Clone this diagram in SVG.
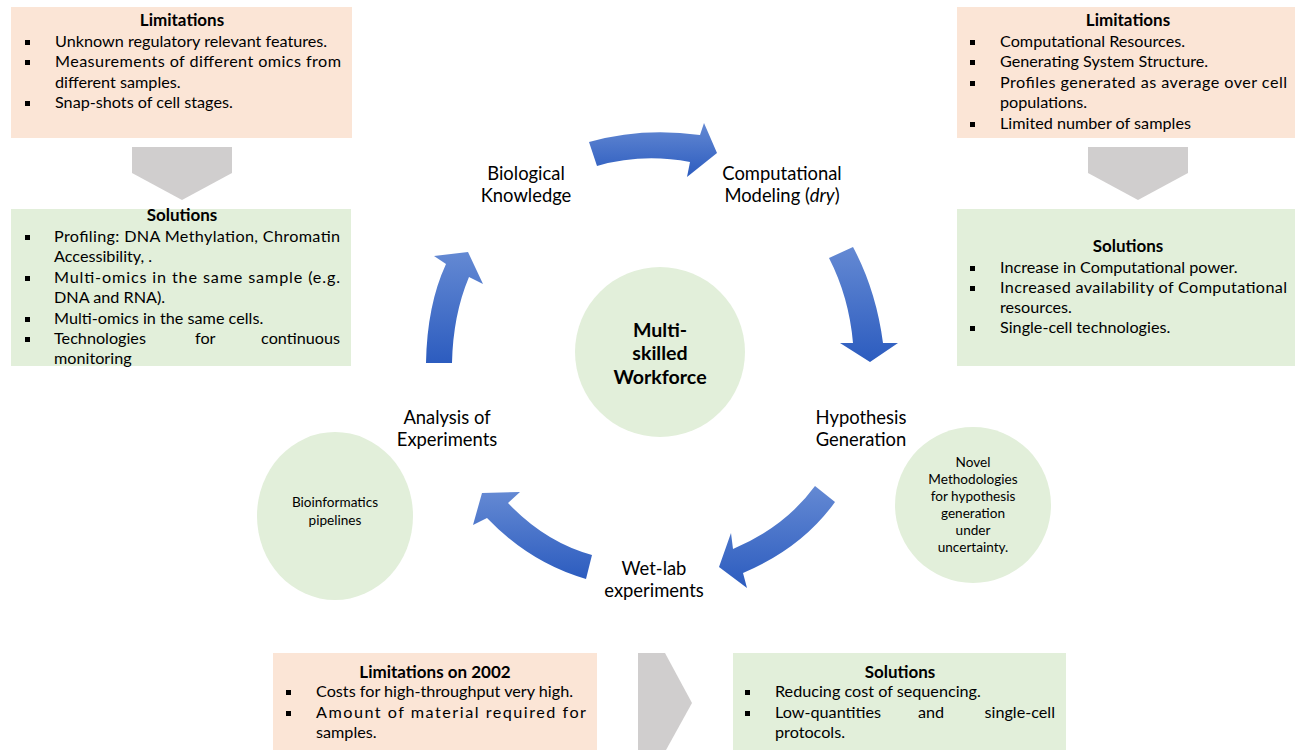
<svg xmlns="http://www.w3.org/2000/svg" width="1295" height="750" viewBox="0 0 1295 750">
<defs>
<linearGradient id="blue" x1="0" y1="0" x2="0" y2="1">
<stop offset="0" stop-color="#6489d3"/>
<stop offset="1" stop-color="#2c5cbf"/>
</linearGradient>
<style>
.peach{fill:#fbe5d6}
.green{fill:#e2efda}
.gray{fill:#d0cece}
.arrow{fill:url(#blue)}
text{font-family:Lato,"Open Sans","Liberation Sans",sans-serif;fill:#000}
.t{font-size:16.2px}
.b{font-size:17px;font-weight:bold;text-anchor:middle}
.lbl{font-size:18.4px;text-anchor:middle}
.sm{font-size:13.6px;text-anchor:middle}
.ctr{font-size:19.6px;font-weight:bold;text-anchor:middle}
.bul{fill:#000}
</style>
</defs>

<g id="limitations-left">
<rect class="peach" x="11" y="7" width="341" height="131"/>
<text class="b" x="182" y="26">Limitations</text>
<rect class="bul" x="25" y="40" width="5" height="5"/>
<text class="t" x="55" y="47">Unknown regulatory relevant features.</text>
<rect class="bul" x="25" y="60" width="5" height="5"/>
<text class="t" x="55" y="67" textLength="286" lengthAdjust="spacing">Measurements of different omics from</text>
<text class="t" x="55" y="88">different samples.</text>
<rect class="bul" x="25" y="101" width="5" height="5"/>
<text class="t" x="55" y="108">Snap-shots of cell stages.</text>
</g>

<g id="chevron-left">
<polygon class="gray" points="132,147 232,147 232,173 182,200 132,173"/>
</g>

<g id="solutions-left">
<rect class="green" x="11" y="209" width="340" height="157"/>
<text class="b" x="182" y="221">Solutions</text>
<rect class="bul" x="25" y="235" width="5" height="5"/>
<text class="t" x="54" y="242" textLength="286" lengthAdjust="spacing">Profiling: DNA Methylation, Chromatin</text>
<text class="t" x="54" y="262">Accessibility, .</text>
<rect class="bul" x="25" y="276" width="5" height="5"/>
<text class="t" x="54" y="283" textLength="286" lengthAdjust="spacing">Multi-omics in the same sample (e.g.</text>
<text class="t" x="54" y="303">DNA and RNA).</text>
<rect class="bul" x="25" y="317" width="5" height="5"/>
<text class="t" x="54" y="324">Multi-omics in the same cells.</text>
<rect class="bul" x="25" y="337" width="5" height="5"/>
<text class="t" x="54" y="344">Technologies</text>
<text class="t" x="195" y="344">for</text>
<text class="t" x="340" y="344" text-anchor="end">continuous</text>
<text class="t" x="54" y="364">monitoring</text>
</g>

<g id="limitations-right">
<rect class="peach" x="957" y="7" width="338" height="131"/>
<text class="b" x="1128" y="26">Limitations</text>
<rect class="bul" x="970" y="40" width="5" height="5"/>
<text class="t" x="1000" y="47">Computational Resources.</text>
<rect class="bul" x="970" y="60" width="5" height="5"/>
<text class="t" x="1000" y="67">Generating System Structure.</text>
<rect class="bul" x="970" y="81" width="5" height="5"/>
<text class="t" x="1000" y="88" textLength="287" lengthAdjust="spacing">Profiles generated as average over cell</text>
<text class="t" x="1000" y="108">populations.</text>
<rect class="bul" x="970" y="122" width="5" height="5"/>
<text class="t" x="1000" y="129">Limited number of samples</text>
</g>

<g id="chevron-right">
<polygon class="gray" points="1088,147 1188,147 1188,173 1138,200 1088,173"/>
</g>

<g id="solutions-right">
<rect class="green" x="957" y="209" width="338" height="157"/>
<text class="b" x="1128" y="252">Solutions</text>
<rect class="bul" x="970" y="266" width="5" height="5"/>
<text class="t" x="1000" y="273">Increase in Computational power.</text>
<rect class="bul" x="970" y="286" width="5" height="5"/>
<text class="t" x="1000" y="293" textLength="287" lengthAdjust="spacing">Increased availability of Computational</text>
<text class="t" x="1000" y="313">resources.</text>
<rect class="bul" x="970" y="326" width="5" height="5"/>
<text class="t" x="1000" y="333">Single-cell technologies.</text>
</g>

<g id="workforce">
<circle class="green" cx="660" cy="352" r="85"/>
<text class="ctr" x="660" y="337">Multi-</text>
<text class="ctr" x="660" y="360">skilled</text>
<text class="ctr" x="660" y="384">Workforce</text>
</g>

<g id="biological-knowledge">
<text class="lbl" x="526" y="180">Biological</text>
<text class="lbl" x="526" y="202">Knowledge</text>
</g>

<g id="computational-modeling">
<text class="lbl" x="782" y="180">Computational</text>
<text class="lbl" x="782" y="202">Modeling (<tspan font-style="italic">dry</tspan>)</text>
</g>

<g id="hypothesis-generation">
<text class="lbl" x="861" y="424">Hypothesis</text>
<text class="lbl" x="861" y="446">Generation</text>
</g>

<g id="wet-lab">
<text class="lbl" x="654" y="575">Wet-lab</text>
<text class="lbl" x="654" y="597">experiments</text>
</g>

<g id="analysis">
<text class="lbl" x="447" y="424">Analysis of</text>
<text class="lbl" x="447" y="446">Experiments</text>
</g>

<g id="bioinformatics">
<ellipse class="green" cx="335" cy="516" rx="78" ry="84"/>
<text class="sm" x="335" y="507">Bioinformatics</text>
<text class="sm" x="335" y="525">pipelines</text>
</g>

<g id="novel-methodologies">
<circle class="green" cx="973" cy="505" r="78"/>
<text class="sm" x="973" y="467">Novel</text>
<text class="sm" x="973" y="484">Methodologies</text>
<text class="sm" x="973" y="501">for hypothesis</text>
<text class="sm" x="973" y="518">generation</text>
<text class="sm" x="973" y="535">under</text>
<text class="sm" x="973" y="552">uncertainty.</text>
</g>

<g id="connectors">
<path class="arrow" d="M589,142 Q642,127 700,135 L704,123 L717,153 L687,177 L690,162 Q642,153 597,166 Z"/>
<path class="arrow" d="M829,258 Q849,297 853,343 L840,343 L870,362 L898,343 L883,343 Q876,290 853,247 Z"/>
<path class="arrow" d="M815,486 Q785,527 733,549 L731,533 L719,567 L747,588 L743,573 Q802,548 835,502 Z"/>
<path class="arrow" d="M482,493 L520,492 L508,503 Q545,542 592,555 L586,579 Q530,563 487,518 L473,525 Z"/>
<path class="arrow" d="M426,363 Q427,305 446,264 L434,256 L468,252 L483,284 L469,277 Q453,315 452,363 Z"/>
</g>

<g id="limitations-2002">
<rect class="peach" x="273" y="653" width="324" height="97"/>
<text class="b" x="435" y="678">Limitations on 2002</text>
<rect class="bul" x="286" y="690" width="5" height="5"/>
<text class="t" x="316" y="697">Costs for high-throughput very high.</text>
<rect class="bul" x="286" y="711" width="5" height="5"/>
<text class="t" x="316" y="718" textLength="270" lengthAdjust="spacing">Amount of material required for</text>
<text class="t" x="316" y="738">samples.</text>
</g>

<g id="arrow-bottom">
<polygon class="gray" points="638,653 665,653 692,703 666,750 638,750"/>
</g>

<g id="solutions-bottom">
<rect class="green" x="733" y="653" width="333" height="97"/>
<text class="b" x="900" y="678">Solutions</text>
<rect class="bul" x="745" y="690" width="5" height="5"/>
<text class="t" x="775" y="697">Reducing cost of sequencing.</text>
<rect class="bul" x="745" y="711" width="5" height="5"/>
<text class="t" x="775" y="718">Low-quantities</text>
<text class="t" x="918" y="718">and</text>
<text class="t" x="1055" y="718" text-anchor="end">single-cell</text>
<text class="t" x="775" y="738">protocols.</text>
</g>
</svg>
